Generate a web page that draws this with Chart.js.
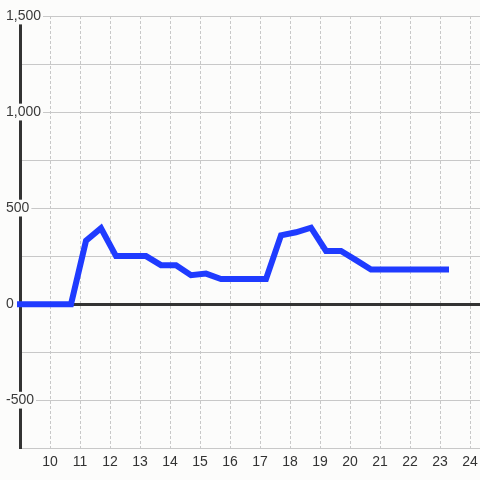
<!DOCTYPE html>
<html>
<head>
<meta charset="utf-8">
<script src="https://cdn.jsdelivr.net/npm/chart.js@4/dist/chart.umd.min.js"></script>
<style>
  html, body { margin: 0; padding: 0; background: #fcfcfb; }
  #chart { display: block; }
</style>
</head>
<body>
<canvas id="chart" width="480" height="480"></canvas>
<script>
// Data (hour of day vs. value)
const hours  = [9, 10.7, 11.2, 11.7, 12.2, 13.2, 13.7, 14.2, 14.7, 15.2, 15.7, 17.2, 17.7, 18.2, 18.7, 19.2, 19.7, 20.2, 20.7, 23.2];
const values = [0, 0, 330, 395, 250, 250, 203, 203, 151, 159, 131, 131, 358, 374, 398, 277, 277, 229, 180, 180];

const xMin = 9, xMax = 24.333;
const yMin = -750, yMax = 1500;

const BG = '#fcfcfb';
const labelFont = { family: 'Liberation Sans, Arial, sans-serif', size: 14 };

const points = hours.map((h, i) => ({ x: h, y: values[i] }));

new Chart(document.getElementById('chart').getContext('2d'), {
  type: 'line',
  data: {
    datasets: [{
      data: points,
      borderColor: '#1f3bff',
      borderWidth: 6,
      borderCapStyle: 'square',
      borderJoinStyle: 'miter',
      pointRadius: 0,
      tension: 0,
      fill: false,
      clip: false
    }]
  },
  options: {
    responsive: false,
    animation: false,
    layout: { padding: { left: 5, right: 0, top: 16, bottom: 3 } },
    plugins: { legend: { display: false }, tooltip: { enabled: false } },
    scales: {
      x: {
        type: 'linear',
        min: xMin,
        max: xMax,
        // keep the plot running to the right edge, the last label fits anyway
        afterFit: s => { s.paddingLeft = 0; s.paddingRight = 0; },
        grid: { color: '#c8c8c8', lineWidth: 1, drawTicks: false },
        border: { display: true, color: '#c8c8c8', width: 1, dash: [3, 2] },
        ticks: {
          stepSize: 1,
          includeBounds: false,
          padding: 6,
          color: '#333',
          font: labelFont,
          maxRotation: 0,
          autoSkip: false,
          callback: v => (v >= 10 && Number.isInteger(v)) ? String(v) : ''
        }
      },
      y: {
        min: yMin,
        max: yMax,
        afterFit: s => { s.width = 15; },
        grid: {
          drawTicks: false,
          color: ctx => ctx.tick && ctx.tick.value === 0 ? '#333' : '#c8c8c8',
          lineWidth: ctx => ctx.tick && ctx.tick.value === 0 ? 3 : 1
        },
        border: { display: true, color: '#333', width: 3 },
        ticks: {
          stepSize: 250,
          mirror: true,
          padding: -14,
          color: '#3a3a3a',
          font: labelFont,
          showLabelBackdrop: ctx => ctx.tick && ctx.tick.value % 500 === 0 && ctx.tick.value >= -500,
          backdropColor: BG,
          backdropPadding: { top: 0, bottom: 0, left: 2, right: 2 },
          callback: v => (v % 500 === 0 && v >= -500) ? v.toLocaleString('en-US') : ''
        }
      }
    }
  }
});
</script>
</body>
</html>
